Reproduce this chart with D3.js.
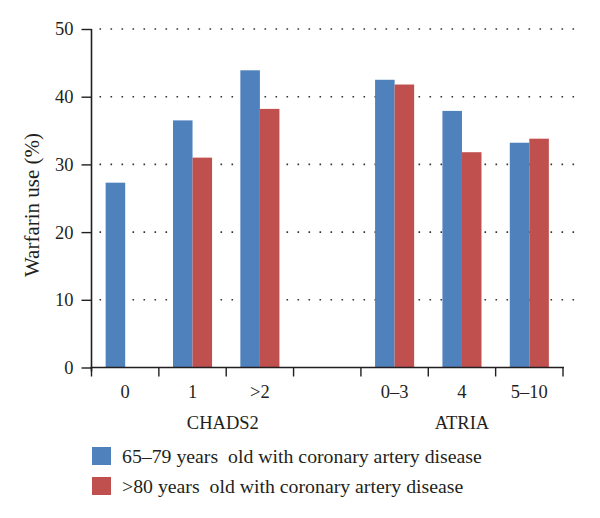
<!DOCTYPE html>
<html>
<head>
<meta charset="utf-8">
<script src="https://cdn.jsdelivr.net/npm/d3@7"></script>
<style>
  html, body { margin: 0; padding: 0; background: #fff; }
  svg { display: block; }
  text { font-family: "Liberation Serif", "DejaVu Serif", serif; fill: #231f20; white-space: pre; }
</style>
</head>
<body>
<svg id="chart" width="600" height="518"></svg>
<script>
// ---- data ----
const categories = ["0", "1", ">2", "", "0\u20133", "4", "5\u201310"];
const series1Name = "65\u201379 years  old with coronary artery disease";
const series2Name = ">80 years  old with coronary artery disease";
const series1 = [27.3, 36.5, 43.9, null, 42.5, 37.9, 33.2];
const series2 = [null, 31.0, 38.2, null, 41.8, 31.8, 33.8];
const groupLabels = ["CHADS2", "ATRIA"];
const yTicks = [0, 10, 20, 30, 40, 50];

// ---- layout ----
const svg = d3.select("#chart");
const mLeft = 91.5, mRight = 563, mTop = 29, mBottom = 367.5;
const colors = ["#4F81BD", "#C0504D"];
const tickFont = 18.5;

const y = d3.scaleLinear().domain([0, 50]).range([mBottom, mTop]);
const x0 = d3.scaleBand().domain(categories).range([mLeft, mRight])
  .paddingInner(0.42).paddingOuter(0.21);
const x1 = d3.scaleBand().domain([0, 1]).range([0, x0.bandwidth()]);
const step = x0.step();

// dotted gridlines
svg.append("g").selectAll("line").data(yTicks.filter(d => d > 0)).join("line")
  .attr("x1", mLeft + 8).attr("x2", 579)
  .attr("y1", d => y(d)).attr("y2", d => y(d))
  .attr("stroke", "#333").attr("stroke-width", 1.6)
  .attr("stroke-dasharray", "1.6,9.4");

// bars
const seriesList = [series1, series2];
seriesList.forEach((vals, si) => {
  svg.append("g").selectAll("rect")
    .data(categories.map((c, i) => ({ c, v: vals[i] })).filter(d => d.v != null))
    .join("rect")
    .attr("x", d => x0(d.c) + x1(si))
    .attr("y", d => y(d.v))
    .attr("width", x1.bandwidth())
    .attr("height", d => y(0) - y(d.v))
    .attr("fill", colors[si]);
});

// y axis
const yAxis = d3.axisLeft(y).tickValues(yTicks).tickSize(10).tickPadding(8).tickFormat(d3.format("d"));
const gy = svg.append("g").attr("transform", `translate(${mLeft},0)`).call(yAxis);
gy.select(".domain").attr("d", `M0,${mTop}V${mBottom + 4}`).attr("stroke", "#231f20").attr("stroke-width", 1.6);
gy.selectAll(".tick line").attr("stroke", "#231f20").attr("stroke-width", 1.4);
gy.selectAll(".tick text").style("font-family", "Liberation Serif").style("font-size", tickFont + "px").attr("fill", "#231f20");

// x axis line and slot ticks
const gx = svg.append("g");
gx.append("line").attr("x1", mLeft - 1).attr("x2", mRight + 1)
  .attr("y1", mBottom).attr("y2", mBottom)
  .attr("stroke", "#231f20").attr("stroke-width", 1.6);
gx.selectAll("line.t").data(d3.range(categories.length + 1)).join("line")
  .attr("class", "t")
  .attr("x1", i => mLeft + i * step).attr("x2", i => mLeft + i * step)
  .attr("y1", mBottom).attr("y2", mBottom + 9)
  .attr("stroke", "#231f20").attr("stroke-width", 1.4);
gx.selectAll("text").data(categories).join("text")
  .attr("x", c => x0(c) + x0.bandwidth() / 2)
  .attr("y", 398)
  .attr("text-anchor", "middle")
  .style("font-size", tickFont + "px")
  .text(c => c);

// group labels
const groupX = [mLeft + step * 1.95, x0(categories[5]) + x0.bandwidth() / 2];
svg.selectAll("text.grp").data(groupLabels).join("text")
  .attr("class", "grp")
  .attr("x", (d, i) => groupX[i])
  .attr("y", 429)
  .attr("text-anchor", "middle")
  .style("font-size", tickFont + "px")
  .text(d => d);

// y label
svg.append("text")
  .attr("transform", `translate(39,205) rotate(-90)`)
  .attr("text-anchor", "middle")
  .style("font-size", "21px")
  .text("Warfarin use (%)");

// legend
const legend = svg.append("g");
[series1Name, series2Name].forEach((name, i) => {
  legend.append("rect").attr("x", 92).attr("y", 447 + i * 30)
    .attr("width", 19).attr("height", 18).attr("fill", colors[i]);
  legend.append("text").attr("x", 122).attr("y", 463 + i * 30)
    .attr("xml:space", "preserve")
    .style("font-size", "19.8px").text(name);
});
</script>
</body>
</html>
